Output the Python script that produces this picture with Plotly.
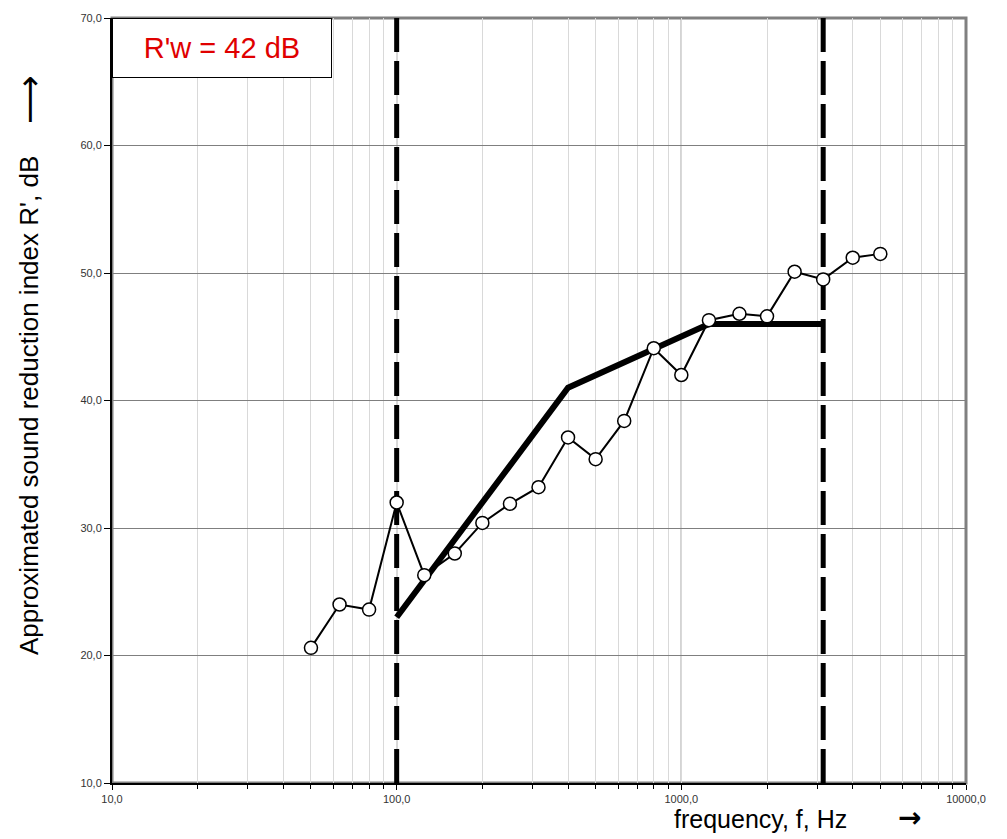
import plotly.graph_objects as go

# Data
freqs = [50, 63, 80, 100, 125, 160, 200, 250, 315, 400, 500, 630, 800, 1000,
         1250, 1600, 2000, 2500, 3150, 4000, 5000]
r_measured = [20.6, 24.0, 23.6, 32.0, 26.3, 28.0, 30.4, 31.9, 33.2, 37.1, 35.4,
              38.4, 44.1, 42.0, 46.3, 46.8, 46.6, 50.1, 49.5, 51.2, 51.5]
ref_freqs = [100, 400, 1250, 3150]
ref_values = [23, 41, 46, 46]
band_limits = [100, 3150]
y_range = [10, 70]
x_ticks = [10, 100, 1000, 10000]
x_ticktext = ["10,0", "100,0", "1000,0", "10000,0"]
y_ticks = [10, 20, 30, 40, 50, 60, 70]
y_ticktext = ["10,0", "20,0", "30,0", "40,0", "50,0", "60,0", "70,0"]

fig = go.Figure()

for f in band_limits:
    fig.add_trace(go.Scatter(x=[f, f], y=y_range, mode="lines",
                             line=dict(color="black", width=5, dash="34px,9px"),
                             showlegend=False, hoverinfo="skip"))

fig.add_trace(go.Scatter(x=ref_freqs, y=ref_values, mode="lines",
                         line=dict(color="black", width=6), showlegend=False))

fig.add_trace(go.Scatter(x=freqs, y=r_measured, mode="lines+markers",
                         line=dict(color="black", width=2),
                         marker=dict(symbol="circle", size=13, color="white",
                                     line=dict(color="black", width=1.5)),
                         showlegend=False))

# decade grid lines (black)
for v in [100, 1000]:
    fig.add_shape(type="line", xref="x", yref="paper", x0=v, x1=v, y0=0, y1=1,
                  line=dict(color="black", width=1), layer="between")

# plot border (gray top/right)
fig.add_shape(type="rect", xref="paper", yref="paper", x0=0, x1=1, y0=0, y1=1,
              line=dict(color="#808080", width=3), layer="between")

# page body has an 8px margin, so the figure is sized/offset to compensate
fig.update_layout(
    width=999, height=831,
    margin=dict(l=104, r=41, t=10, b=56, autoexpand=False),
    paper_bgcolor="white", plot_bgcolor="white",
    font=dict(family="Liberation Sans, Arial, sans-serif", color="black"),
    xaxis=dict(type="log", range=[1, 4], tickmode="array", tickvals=x_ticks,
               ticktext=x_ticktext, showgrid=False, zeroline=False,
               showline=True, linecolor="black", linewidth=2,
               ticks="outside", ticklen=5, tickcolor="black",
               tickfont=dict(size=11, color="#333333"),
               minor=dict(dtick="D1", showgrid=True, gridcolor="#d9d9d9",
                          gridwidth=1.2, ticks="outside", ticklen=4, tickcolor="black")),
    yaxis=dict(range=y_range, tickmode="array", tickvals=y_ticks, ticktext=y_ticktext,
               showgrid=True, gridcolor="#7f7f7f", gridwidth=1, zeroline=False,
               showline=True, linecolor="black", linewidth=2,
               ticks="outside", ticklen=6, tickcolor="black",
               tickfont=dict(size=11, color="#333333")),
)

fig.add_annotation(xref="paper", yref="paper", x=0, y=1, xanchor="left", yanchor="top",
                   text="R'w = 42 dB", showarrow=False,
                   font=dict(size=29, color="#e00000"),
                   bgcolor="white", bordercolor="black", borderwidth=1,
                   width=216, height=56)

# y-axis title + arrow
fig.add_annotation(xref="paper", yref="paper", x=-0.097, y=0.493, xanchor="center", yanchor="middle",
                   text="Approximated sound reduction index R', dB", textangle=-90,
                   showarrow=False, font=dict(size=26, color="black"))
fig.add_annotation(xref="paper", yref="paper", x=-0.097, y=0.893, xanchor="center", yanchor="middle",
                   text="\u27f6", textangle=-90,
                   showarrow=False, font=dict(size=34, color="black", family="DejaVu Sans"))

# x-axis title + arrow
fig.add_annotation(xref="paper", yref="paper", x=0.759, y=-0.047, xanchor="center", yanchor="middle",
                   text="frequency, f, Hz", showarrow=False,
                   font=dict(size=25, color="black"))
fig.add_annotation(xref="paper", yref="paper", x=0.934, y=-0.045, xanchor="center", yanchor="middle",
                   text="<b>\u2192</b>", showarrow=False,
                   font=dict(size=28, color="black", family="DejaVu Sans"))

fig.write_html("out.html")
